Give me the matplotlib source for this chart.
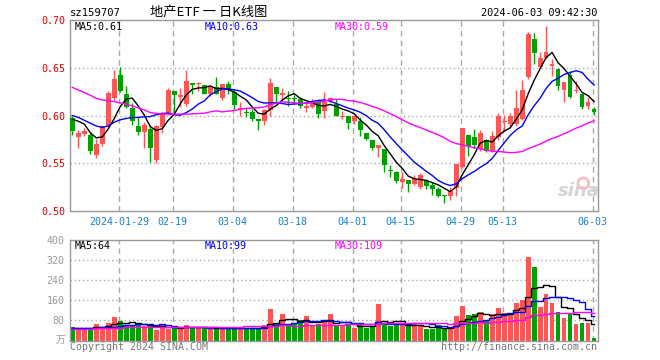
import numpy as np
import pandas as pd
import matplotlib
matplotlib.use('Agg')
import matplotlib.pyplot as plt

# daily K data, 2024-01-17 .. 2024-06-03
opens = [0.597, 0.577, 0.581, 0.580, 0.559, 0.570, 0.589, 0.618, 0.642, 0.623,
         0.608, 0.589, 0.583, 0.586, 0.553, 0.588, 0.603, 0.626, 0.619, 0.612,
         0.634, 0.633, 0.632, 0.622, 0.630, 0.618, 0.633, 0.625, 0.607, 0.604,
         0.604, 0.596, 0.594, 0.606, 0.630, 0.621, 0.618, 0.618, 0.617, 0.608,
         0.609, 0.614, 0.605, 0.615, 0.612, 0.598, 0.599, 0.594, 0.594, 0.582,
         0.574, 0.566, 0.565, 0.543, 0.541, 0.530, 0.532, 0.528, 0.525, 0.532,
         0.527, 0.523, 0.517, 0.516, 0.524, 0.546, 0.580, 0.578, 0.565, 0.574,
         0.563, 0.577, 0.593, 0.591, 0.591, 0.596, 0.640, 0.680, 0.651, 0.660,
         0.652, 0.649, 0.627, 0.642, 0.626, 0.622, 0.610, 0.607]
highs = [0.600, 0.585, 0.587, 0.582, 0.575, 0.590, 0.626, 0.648, 0.651, 0.631,
         0.613, 0.598, 0.593, 0.590, 0.590, 0.604, 0.629, 0.626, 0.629, 0.648,
         0.634, 0.635, 0.632, 0.632, 0.640, 0.633, 0.636, 0.627, 0.614, 0.608,
         0.607, 0.596, 0.607, 0.639, 0.630, 0.629, 0.626, 0.621, 0.619, 0.614,
         0.617, 0.617, 0.625, 0.619, 0.617, 0.605, 0.599, 0.599, 0.598, 0.582,
         0.574, 0.569, 0.565, 0.548, 0.542, 0.541, 0.532, 0.538, 0.540, 0.534,
         0.530, 0.525, 0.517, 0.525, 0.549, 0.587, 0.580, 0.586, 0.585, 0.575,
         0.584, 0.603, 0.601, 0.603, 0.627, 0.637, 0.687, 0.686, 0.666, 0.694,
         0.659, 0.649, 0.635, 0.647, 0.636, 0.622, 0.619, 0.609]
lows = [0.580, 0.566, 0.579, 0.560, 0.556, 0.568, 0.588, 0.616, 0.625, 0.608,
        0.590, 0.580, 0.566, 0.551, 0.550, 0.582, 0.601, 0.603, 0.609, 0.610,
        0.623, 0.626, 0.622, 0.620, 0.622, 0.616, 0.623, 0.607, 0.599, 0.598,
        0.594, 0.585, 0.590, 0.600, 0.614, 0.616, 0.610, 0.612, 0.608, 0.604,
        0.608, 0.597, 0.597, 0.614, 0.599, 0.596, 0.586, 0.591, 0.579, 0.574,
        0.564, 0.557, 0.541, 0.536, 0.529, 0.524, 0.520, 0.527, 0.523, 0.523,
        0.517, 0.515, 0.508, 0.511, 0.516, 0.545, 0.558, 0.566, 0.563, 0.562,
        0.562, 0.574, 0.584, 0.588, 0.589, 0.595, 0.638, 0.654, 0.650, 0.660,
        0.641, 0.627, 0.614, 0.618, 0.624, 0.607, 0.607, 0.601]
closes = [0.584, 0.582, 0.584, 0.563, 0.570, 0.589, 0.624, 0.638, 0.626, 0.609,
          0.594, 0.583, 0.590, 0.566, 0.589, 0.603, 0.627, 0.621, 0.621, 0.636,
          0.632, 0.634, 0.623, 0.630, 0.622, 0.633, 0.627, 0.611, 0.608, 0.603,
          0.596, 0.594, 0.606, 0.634, 0.622, 0.624, 0.617, 0.617, 0.610, 0.610,
          0.614, 0.602, 0.614, 0.618, 0.600, 0.600, 0.592, 0.599, 0.585, 0.575,
          0.566, 0.569, 0.548, 0.542, 0.531, 0.534, 0.528, 0.534, 0.538, 0.526,
          0.523, 0.516, 0.516, 0.521, 0.549, 0.587, 0.568, 0.569, 0.582, 0.563,
          0.579, 0.600, 0.594, 0.599, 0.608, 0.627, 0.685, 0.665, 0.660, 0.666,
          0.654, 0.631, 0.635, 0.619, 0.627, 0.609, 0.614, 0.604]
# volume (10k shares)
volumes = [53, 51, 51, 51, 64, 53, 68, 92, 77, 63,
           60, 63, 57, 63, 40, 63, 44, 53, 51, 60,
           51, 51, 51, 49, 53, 47, 47, 53, 51, 51,
           49, 51, 63, 124, 67, 104, 60, 67, 83, 99,
           60, 64, 73, 104, 56, 63, 63, 49, 63, 49,
           57, 144, 67, 56, 60, 67, 60, 67, 57, 44,
           44, 63, 44, 49, 96, 136, 100, 104, 113, 77,
           104, 129, 108, 108, 149, 160, 333, 292, 132, 184,
           150, 115, 89, 105, 66, 70, 70, 9]

# moving average values at the left edge (history before the window)
ma5_head = [0.596, 0.594, 0.591, 0.582]
ma10_head = [0.600, 0.598, 0.595, 0.592, 0.589, 0.5875, 0.589, 0.593, 0.5955]
ma30_head = [0.6295, 0.6267, 0.624, 0.6212, 0.618, 0.6163, 0.6153, 0.6146, 0.6132,
             0.6118, 0.610, 0.608, 0.6059, 0.6031, 0.6021, 0.6017, 0.6014, 0.6014,
             0.6014, 0.6014, 0.6017, 0.6021, 0.6024, 0.6038, 0.6049, 0.6038, 0.6045,
             0.6052, 0.6066]
vma5_head = [49, 50, 50, 51]
vma10_head = [51, 51, 51, 51, 51, 52, 53, 55, 57]
vma30_head = [47, 47, 47, 47, 48, 48, 49, 50, 51, 52, 52, 53, 53, 54, 54,
              54, 54, 55, 55, 55, 55, 55, 55, 55, 55, 55, 55, 55, 55]

tick_idx = [8, 17, 27, 37, 47, 55, 65, 72, 87]
tick_lbl = ['2024-01-29', '02-19', '03-04', '03-18', '04-01', '04-15', '04-29', '05-13', '06-03']

UP = '#ff5555'
DN = '#00a000'
GRID = '#aaaaaa'
FRAME = '#999999'
MONO = 'DejaVu Sans Mono'


def ma(values, win, head):
    s = pd.Series(values, dtype=float).rolling(win).mean().to_numpy()
    s[:len(head)] = head
    return s


o = np.array(opens)
h = np.array(highs)
l = np.array(lows)
c = np.array(closes)
v = np.array(volumes)
x = np.arange(len(c))
up = c >= o
cols = np.where(up, UP, DN)

W, H = 660, 360
fig = plt.figure(figsize=(6.6, 3.6), dpi=100)


def rect(x0, y0, x1, y1):
    return [x0 / W, 1 - y1 / H, (x1 - x0) / W, (y1 - y0) / H]


ax = fig.add_axes(rect(70, 20, 597.5, 211))
axv = fig.add_axes(rect(70, 240, 597.5, 340.5))
xlim = (-0.38, 87.57)
gx = [t - 0.25 for t in tick_idx]

for a in (ax, axv):
    a.set_xlim(*xlim)
    for s in a.spines.values():
        s.set_color(FRAME)
        s.set_linewidth(1)
    for g in gx:
        a.axvline(g, color=GRID, lw=1, ls=(0, (4, 3)), zorder=0)
    a.tick_params(length=0)

# price panel
ax.set_ylim(0.50, 0.70)
for yv in [0.55, 0.60, 0.65]:
    ax.axhline(yv, color=GRID, lw=1, ls=(0, (1, 2)), zorder=0)

# watermark
ax.text(84.4, 0.512, 'sina', fontsize=13, fontweight='bold', style='italic',
        color='#d4d4d4', ha='center', va='bottom', zorder=1)
ax.scatter([85.2], [0.529], s=60, facecolors='none', edgecolors='#f4c0c0',
           linewidths=2, zorder=1)

ax.vlines(x, l, h, colors=cols, lw=1, zorder=2)
body = np.maximum(np.abs(c - o), 0.0011)
ax.bar(x, body, bottom=np.minimum(o, c), width=0.8, color=cols, lw=0, zorder=3)

ax.plot(x, ma(c, 5, ma5_head), color='black', lw=1, zorder=4)
ax.plot(x, ma(c, 10, ma10_head), color='#0000ff', lw=1, zorder=4)
ax.plot(x, ma(c, 30, ma30_head), color='#ff00ff', lw=1, zorder=4)

ax.set_yticks([0.50, 0.55, 0.60, 0.65, 0.70])
ax.set_yticklabels(['0.50', '0.55', '0.60', '0.65', '0.70'], family=MONO,
                   fontsize=7.2, color='#e00000')
ax.tick_params(axis='y', pad=3)
ax.set_xticks(gx)
ax.set_xticklabels(tick_lbl, family=MONO, fontsize=7.2, color='#1a80d0')
ax.tick_params(axis='x', pad=4)

# volume panel
axv.set_ylim(0, 400)
for yv in [80, 160, 240, 320]:
    axv.axhline(yv, color=GRID, lw=1, ls=(0, (1, 2)), zorder=0)
axv.bar(x, v, width=0.8, color=cols, lw=0, zorder=2)
axv.plot(x, ma(v, 5, vma5_head), color='black', lw=1, drawstyle='steps-mid', zorder=3)
axv.plot(x, ma(v, 10, vma10_head), color='#0000ff', lw=1, drawstyle='steps-mid', zorder=3)
axv.plot(x, ma(v, 30, vma30_head), color='#ff00ff', lw=1, drawstyle='steps-mid', zorder=3)
axv.set_yticks([80, 160, 240, 320, 400])
axv.set_yticklabels(['80', '160', '240', '320', '400'], family=MONO,
                    fontsize=7.2, color='#999999')
axv.tick_params(axis='y', pad=4)
axv.set_xticks([])


def ftext(px, py, s, **kw):
    fig.text(px / W, 1 - py / H, s, **kw)


ftext(70, 13, 'sz159707', family=MONO, fontsize=7.6, va='center', ha='left')
ftext(209, 12, '地产ETF 一 日K线图', family=['Noto Sans CJK SC', 'DejaVu Sans'],
      fontsize=9.5, va='center', ha='center')
ftext(597, 13, '2024-06-03 09:42:30', family=MONO, fontsize=7.4, va='center', ha='right')

ftext(75, 27, 'MA5:0.61', family=MONO, fontsize=7.2, va='center', color='black')
ftext(205, 27, 'MA10:0.63', family=MONO, fontsize=7.2, va='center', color='#0000ff')
ftext(335, 27, 'MA30:0.59', family=MONO, fontsize=7.2, va='center', color='#ff00ff')

ftext(75, 246, 'MA5:64', family=MONO, fontsize=7.2, va='center', color='black')
ftext(205, 246, 'MA10:99', family=MONO, fontsize=7.2, va='center', color='#0000ff')
ftext(335, 246, 'MA30:109', family=MONO, fontsize=7.2, va='center', color='#ff00ff')

ftext(65, 340, '万', family=['Noto Sans CJK SC', 'DejaVu Sans'], fontsize=7,
      va='center', ha='right', color='#999999')
ftext(70, 347, 'Copyright 2024 SINA.COM', family=MONO, fontsize=7.2,
      va='center', ha='left', color='#777777')
ftext(597, 347, 'http://finance.sina.com.cn', family=MONO, fontsize=7.2,
      va='center', ha='right', color='#777777')

fig.savefig('out.png', dpi=100)
